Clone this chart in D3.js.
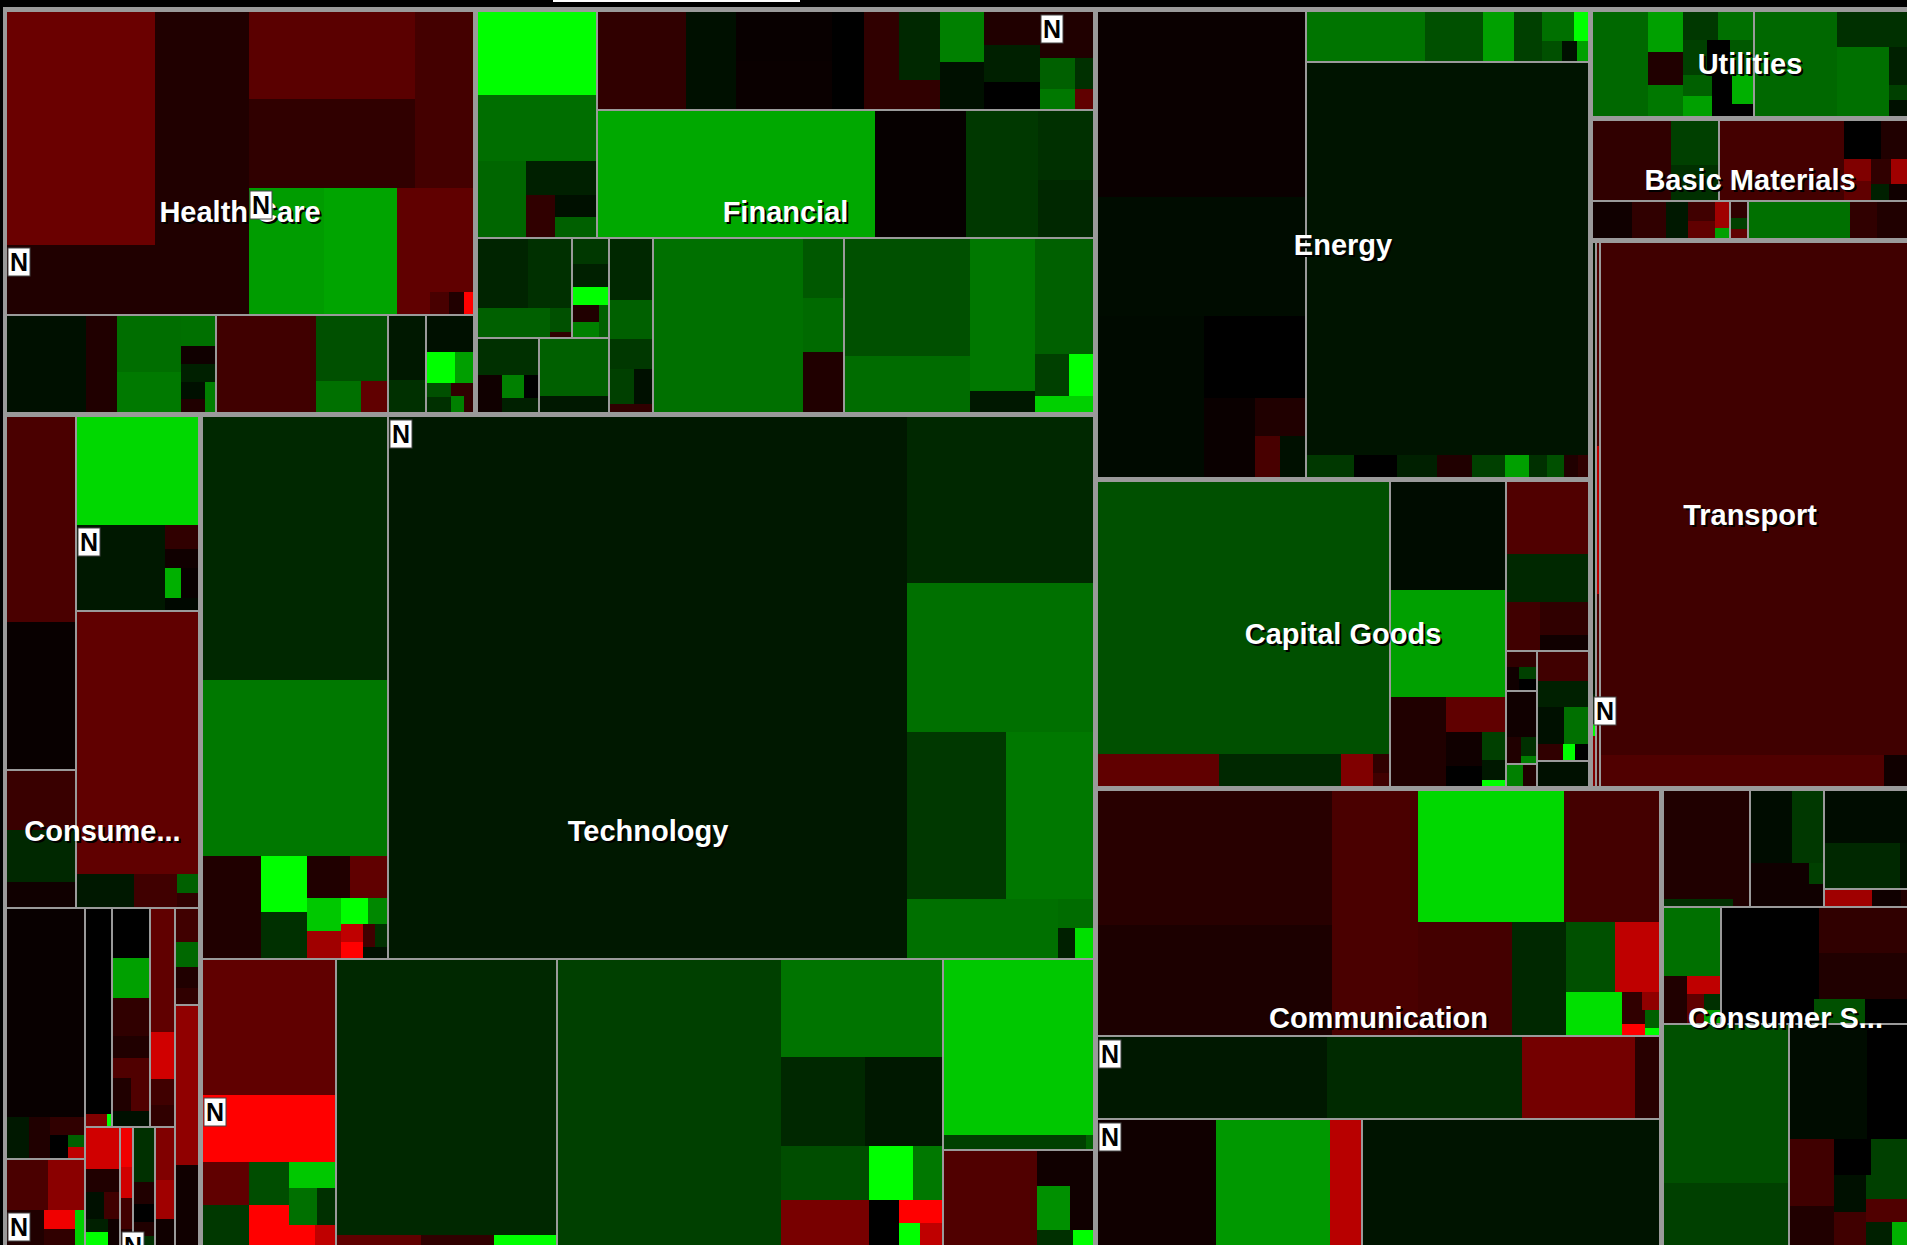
<!DOCTYPE html>
<html>
<head>
<meta charset="utf-8">
<script src="https://cdn.jsdelivr.net/npm/d3@7"></script>
<style>
    body { margin: 0; background: #000; overflow: hidden; }
    svg { display: block; }
</style>
</head>
<body>
<svg id="map" width="1907" height="1245"></svg>
<script>
// stock = [market cap, % change, news flag]; ind(...) groups stocks into an industry
function ind() { return { industry: Array.prototype.slice.call(arguments) }; }

var sectorLabels = ["Health Care", "Financial", "Consume...", "Technology", "Energy", "Capital Goods",
    "Utilities", "Basic Materials", "Transport", "Communication", "Consumer S..."];

var healthCare = [
    ind([[[33.5, -1.66], [21.4, -0.5]], [16.3, -0.5, 1]],
        [[[14.0, -1.41], [14.3, -0.75], [10.0, -1.07]],
         [[9.1, 2.45, 1], [9.0, 2.57], [7.8, -1.5], [0.7, -1.5], [0.4, -1.13], [0.3, -0.5], [0.2, -4]]]),
    [
        ind([[7.5, 0.25], [3.0, -0.5], [[3.6, 1.73], [2.5, 1.9], [1.0, 1.76], [0.6, -0.25], [0.6, 0.5], [0.4, 0.25], [0.3, -0.5], [0.3, 2.0]]]),
        ind([9.4, -1.0], [4.6, 1.25], [1.4, 1.76], [0.8, -1.5]),
        ind([2.4, 0.38], [1.2, 0.75]),
        ind([1.7, 0.25], [0.9, 4], [0.6, 2.5], [0.35, 1.25], [0.35, 0.75], [0.3, -0.75], [0.2, 2.0], [0.15, -0.75])
    ]
];

var financial = [
    [
        ind([9.6, 4], [7.7, 1.73], [3.6, 1.6], [2.3, 0.5], [1.2, -0.75], [0.9, 0.25], [0.8, 1.5]),
        [
            ind([8.5, -0.75], [4.8, 0.25], [[4.6, -0.13], [4.6, -0.16]], [3.0, 0], [[2.4, -0.75], [2.7, 0.63], [2.2, -0.75]],
                [[2.2, 2.0], [2.1, 0.25]], [[1.8, -0.5], [2.0, 0.5], [1.5, 0]],
                [[2.4, -0.5, 1], [1.1, 1.5], [0.7, 1.88], [0.55, 0.75], [0.35, -1.5]]),
            ind([34.2, 2.63], [11.2, -0.1], [8.8, 0.88], [3.7, 0.75], [3.1, 0.63])
        ]
    ],
    [
        [[
            [
                [ind([3.4, 0.56], [3.0, 0.75], [2.1, 1.5], [0.5, 1.25], [0.1, -0.75]),
                 ind([0.9, 0.88], [0.85, 0.5], [0.66, 4], [0.45, -0.5], [0.4, 2.0], [0.3, 1.5])],
                [ind([2.2, 0.75], [0.9, -0.25], [0.5, 2.0], [0.35, 0], [0.3, 0.5], [0.2, 0.5]),
                 ind([3.9, 1.5], [1.1, 0.38])]
            ],
            ind([2.6, 0.63], [1.7, 1.5], [1.25, 0.88], [0.86, 1.0], [0.64, 0.25], [0.35, -0.75])
        ]],
        ind([25.3, 1.76], [2.3, 1.38], [2.1, 1.66], [2.3, -0.5]),
        ind([[[14.3, 1.25], [6.9, 1.7]], [[9.6, 1.88], [1.3, 0.38]], [[6.5, 1.5], [1.4, 1.0], [1.0, 4], [0.9, 3.26]]])
    ]
];

var consumer = [
    [
        [ind([13.9, -1.16], [10.0, -0.13]), ind([4.0, -0.9], [3.6, 0.63], [1.7, -0.25])],
        [ind([13.1, 3.39], [7.4, 0.38, 1], [0.8, -0.75], [0.6, -0.25], [0.5, 2.76], [0.5, -0.13], [0.4, 0.13]),
         ind([31.5, -1.5], [1.9, 0.38], [1.4, -1.0], [0.4, 1.5], [0.3, -0.75])]
    ],
    [
        [ind([16.0, -0.13], [0.9, 0.38], [0.85, -0.5], [0.6, -0.75], [0.4, 0], [0.2, 1.5], [0.17, -3.0]),
         ind([2.1, -1.16], [1.85, -2.16], [1.3, -0.5, 1], [0.6, -3.76], [0.5, -0.75], [0.33, 3.26])],
        [
            [ind([5.4, 0], [0.25, -2.0], [0.05, 4]),
             ind([1.8, 0], [1.5, 2.51], [1.4, -0.75], [0.8, -0.5], [0.75, -1.25], [0.6, -0.5], [0.6, -1.25], [0.55, 0.25]),
             ind([3.0, -1.5], [1.15, -3.26], [0.65, -1.0], [0.5, -0.75])],
            [ind([1.4, -3.26], [0.8, -0.5], [0.5, 0.25], [0.4, -1.0], [0.3, 0.5], [0.3, 4], [0.3, -0.25]),
             ind([0.5, -3.76], [0.4, -3.26], [0.4, -1.0], [0.2, -0.5, 1]),
             ind([1.2, 0.75], [0.5, -0.5], [0.4, 0], [0.3, -0.5], [0.2, 0.75]),
             ind([1.0, -2.0], [0.75, -2.51], [0.5, -0.25])]
        ],
        [ind([0.8, -1.0], [0.6, 1.63], [0.5, -0.5], [0.4, -0.75]), ind([3.8, -2.26], [1.9, -0.25])]
    ]
];

var technology = [
    [
        ind([47.0, 0.63], [31.5, 1.88], [5.7, -0.5], [2.5, 4], [2.1, 0.75], [1.7, -0.5], [1.5, -1.5], [1.1, 3.14], [0.87, -2.51],
            [0.7, 4], [0.5, 2.13], [0.38, -3.0], [0.36, -4], [0.27, -1.0], [0.27, 0.75], [0.25, 0.25]),
        ind([270.0, 0.38, 1], [29.7, 0.63], [26.6, 1.76], [15.8, 0.88], [13.9, 1.88], [8.6, 1.76], [1.0, 1.7], [0.5, 0.5], [0.5, 3.51])
    ],
    [
        ind([17.4, -1.5], [8.7, -4, 1], [1.9, -1.5], [1.8, 0.88], [1.7, 1.2], [1.6, -4], [1.2, 3.14], [1.0, 1.76], [0.65, 0.75], [0.5, -4], [0.4, -3.0]),
        ind([58.5, 0.63], [0.8, -1.5], [0.7, -0.75], [0.6, 4]),
        ind([61.3, 1.0], [15.1, 1.82], [7.3, 0.63], [6.6, 0.38], [4.6, 1.2], [3.8, -1.88], [2.3, 4], [1.5, 1.88], [1.3, 0], [0.95, -4], [0.45, 4], [0.45, -3.0]),
        [ind([25.5, 3.14], [2.0, 1.0], [0.1, 1.5]),
         ind([8.7, -1.25], [1.9, -0.25], [1.4, 2.26], [1.0, -0.25], [0.55, 0.75], [0.3, 4])]
    ]
];

var energy = [
    ind([37.5, -0.16], [24.1, 0.19], [16.7, 0.16], [8.0, 0], [3.9, -0.16], [1.9, -0.5], [1.0, -1.13], [1.0, 0.25]),
    [
        ind([5.8, 1.82], [2.9, 1.25], [1.5, 2.51], [1.4, 1.0], [0.95, 1.76], [0.4, 4], [0.4, 1.25], [0.3, 0.25], [0.2, 2.51]),
        ind([106.8, 0.31], [1.0, 0.88], [0.9, 0], [0.85, 0.5], [0.75, -0.5], [0.7, 1.0], [0.5, 2.51], [0.4, 0.75], [0.35, 1.25], [0.3, -0.5], [0.2, -0.75])
    ]
];

var capitalGoods = [
    ind([77.5, 1.25], [3.8, -1.5], [3.8, 0.63], [1.0, -2.0], [0.3, -0.75], [0.2, -1.0]),
    ind([12.2, 0.19], [12.1, 2.51], [4.9, -0.5], [2.0, -1.5], [1.2, -0.25], [0.7, 0], [0.65, 1.0], [0.45, 0.38], [0.15, 4]),
    [
        ind([5.8, -1.25], [3.9, 0.63], [1.6, -1.0], [1.55, -0.75], [0.7, -0.25]),
        [
            [ind([0.5, -0.75], [0.3, -0.25], [0.2, 1.0], [0.2, 0]),
             ind([1.4, -0.25], [0.4, -0.5], [0.3, 0.75], [0.1, 2.0]),
             ind([0.4, 2.0], [0.3, -0.5])],
            [ind([1.5, -1.0], [1.3, 0.5], [1.0, 0.25], [0.9, 1.76], [0.4, -0.75], [0.2, 4], [0.2, 0]),
             ind([1.3, 0.25])]
        ]
    ]
];

var utilities = [
    ind([5.9, 1.63], [1.4, 2.51], [1.2, -0.5], [1.1, 1.88], [1.0, 0.88], [1.0, 1.76], [0.85, 1.0], [0.8, 0], [0.8, 1.38],
        [0.65, 1.5], [0.6, 2.51], [0.6, 0], [0.6, 2.76], [0.5, 0]),
    ind([8.8, 1.63], [2.5, 0.75], [1.9, 1.76], [1.7, 1.76], [0.7, 0.5], [0.3, 1.0], [0.3, 0.25])
];

var basicMaterials = [[
    [ind([6.3, -0.75], [2.1, 1.0], [1.7, 0.75]),
     ind([9.9, -1.07], [1.4, 0], [1.0, -0.5], [0.6, -2.0], [0.5, -1.5], [0.5, -0.75], [0.4, -2.51], [0.3, 0.5], [0.3, -0.25])],
    [ind([1.5, -0.25], [1.25, -0.75], [0.84, 0.38], [0.55, -1.0], [0.45, -1.5], [0.4, -2.51], [0.15, 2.51]),
     ind([0.3, -0.75], [0.2, 1.0], [0.15, -1.5]),
     ind([3.8, 1.76], [1.0, -0.75], [0.84, -0.5], [0.3, -0.5])]
]];

var transport = [
    ind([1.8, 0.25], [0.12, 0.5, 1], [0.05, 4], [0.2, -2.0]),
    ind([0.9, -1.25], [0.65, -3.0], [0.85, -1.25]),
    ind([152.6, -1.0], [8.6, -1.25], [0.7, -0.25])
];

var communication = [
    ind([[[30.6, -0.63]], [[25.1, -0.44]]],
        [20.2, -1.16],
        [[[18.7, 3.39], [12.1, -1.07]],
         [[10.4, -1.07], [5.9, 0.63],
          [[[3.3, 1.25], [3.0, -3.0]],
           [[2.35, 3.51], [0.35, -0.75], [0.3, -2.26], [0.3, -0.75], [0.25, -4], [0.25, 1.5], [0.1, 4]]]]]),
    ind([18.4, 0.38, 1], [15.6, 0.66], [9.1, -1.82], [1.9, -0.63]),
    [ind([14.5, -0.25, 1], [13.9, 2.39], [3.8, -2.89]), ind([36.3, 0.31])]
];

var consumerServices = [
    [
        ind([9.2, -0.5], [0.45, 0.75], [0.1, -0.5]),
        ind([[3.0, 0.19], [2.3, 0.88]], [[2.5, -0.25], [0.3, 1.0], [0.3, -0.25]]),
        [ind([4.3, 0.19], [3.4, 0.63], [0.3, 0.25]), ind([0.8, -2.51], [0.5, -0.25], [0.1, -0.5])]
    ],
    [
        ind([3.9, 1.76], [1.1, -0.5], [0.6, -3.0], [0.5, -1.5], [0.25, 0.75], [0.2, 2.51]),
        ind([[8.8, 0], [[4.0, -0.75], [4.0, -0.5]]], [[2.2, 0], [1.2, 1.25], [1.0, 0]])
    ],
    [
        ind([19.5, 1.25], [7.7, 1.0]),
        ind([[8.7, 0.19], [4.5, 0]],
            [[2.9, -1.0], [1.7, -0.5], [1.3, 0], [1.3, 1.0], [1.2, 0.25], [1.05, -1.0], [1.0, 1.0], [0.9, -1.25], [0.6, 0.5], [0.35, 2.76]])
    ]
];

var sectorParts = [healthCare, financial, consumer, technology, energy, capitalGoods,
    utilities, basicMaterials, transport, communication, consumerServices];

// how the sectors are grouped on the map (indexes into sectorLabels)
var sectorLayout = [[[0, 1], [2, 3]], [[[4, 5], [6, 7, 8]], [9, 10]]];

var color = d3.scaleLinear()
    .domain([-4, 0, 4])
    .range(["#ff0000", "#000000", "#00ff00"])
    .clamp(true);

function build(part, inside) {
    if (typeof part[0] === "number") {
        return { value: part[0], change: part[1], news: part[2] === 1 };
    }
    if (part.industry) {
        return { pad: 0, children: part.industry.map(function(p) { return build(p, true); }) };
    }
    return { pad: inside ? 0 : 2, children: part.map(function(p) { return build(p, inside); }) };
}

function place(n) {
    if (typeof n === "number") {
        return { name: sectorLabels[n], pad: 2, children: sectorParts[n].map(function(p) { return build(p, false); }) };
    }
    return { pad: 5, children: n.map(place) };
}

var squarify = d3.treemapSquarify.ratio(1);

// groups alternate slice / dice, plain lists of stocks are squarified
function tile(node, x0, y0, x1, y1) {
    if (node.children.every(function(c) { return !c.children; })) {
        squarify(node, x0, y0, x1, y1);
    } else {
        d3.treemapSliceDice(node, x0, y0, x1, y1);
    }
}

var root = d3.hierarchy(place(sectorLayout))
    .sum(function(d) { return d.value || 0; });

d3.treemap()
    .tile(tile)
    .size([1908, 1242])
    .paddingInner(function(d) { return d.data.pad; })
    .paddingTop(function(d) { return d.depth ? 0 : 5; })
    .paddingLeft(function(d) { return d.depth ? 0 : 4; })
    .paddingRight(function(d) { return d.depth ? 0 : 4; })
    .paddingBottom(function(d) { return d.depth ? 0 : 4; })
    .round(true)(root);

var svg = d3.select("#map");

svg.append("rect")
    .attr("x", 553)
    .attr("y", 0)
    .attr("width", 247)
    .attr("height", 2)
    .attr("fill", "#ffffff");

var g = svg.append("g").attr("transform", "translate(3,7)");

g.append("rect")
    .attr("width", root.x1 - root.x0)
    .attr("height", root.y1 - root.y0)
    .attr("fill", "#9a9a9a");

g.selectAll("rect.stock")
    .data(root.leaves())
    .join("rect")
    .attr("class", "stock")
    .attr("x", function(d) { return d.x0; })
    .attr("y", function(d) { return d.y0; })
    .attr("width", function(d) { return Math.max(0, d.x1 - d.x0); })
    .attr("height", function(d) { return Math.max(0, d.y1 - d.y0); })
    .attr("fill", function(d) { return color(d.data.change); });

var sectors = root.descendants().filter(function(d) { return d.data.name; });

var labels = g.selectAll("g.label")
    .data(sectors)
    .join("g")
    .attr("class", "label")
    .attr("transform", function(d) { return "translate(" + ((d.x0 + d.x1) / 2) + "," + ((d.y0 + d.y1) / 2) + ")"; })
    .style("font-family", "'Liberation Sans', Arial, sans-serif")
    .style("font-weight", "bold")
    .style("font-size", "29px")
    .attr("text-anchor", "middle");

labels.append("text")
    .attr("x", 2)
    .attr("y", 2)
    .attr("dy", "0.35em")
    .attr("fill", "#000")
    .text(function(d) { return d.data.name; });

labels.append("text")
    .attr("dy", "0.35em")
    .attr("fill", "#fff")
    .text(function(d) { return d.data.name; });

// news badges
var badges = g.selectAll("g.news")
    .data(root.leaves().filter(function(d) { return d.data.news; }))
    .join("g")
    .attr("class", "news")
    .attr("transform", function(d) { return "translate(" + (d.x0 + 1) + "," + (d.y0 + 3) + ")"; });

badges.append("rect")
    .attr("width", 22)
    .attr("height", 28)
    .attr("fill", "#fff")
    .attr("stroke", "#444")
    .attr("stroke-width", 1);

badges.append("text")
    .attr("x", 11)
    .attr("y", 23)
    .attr("text-anchor", "middle")
    .style("font-family", "'Liberation Sans', Arial, sans-serif")
    .style("font-weight", "bold")
    .style("font-size", "25px")
    .attr("fill", "#000")
    .text("N");
</script>
</body>
</html>
